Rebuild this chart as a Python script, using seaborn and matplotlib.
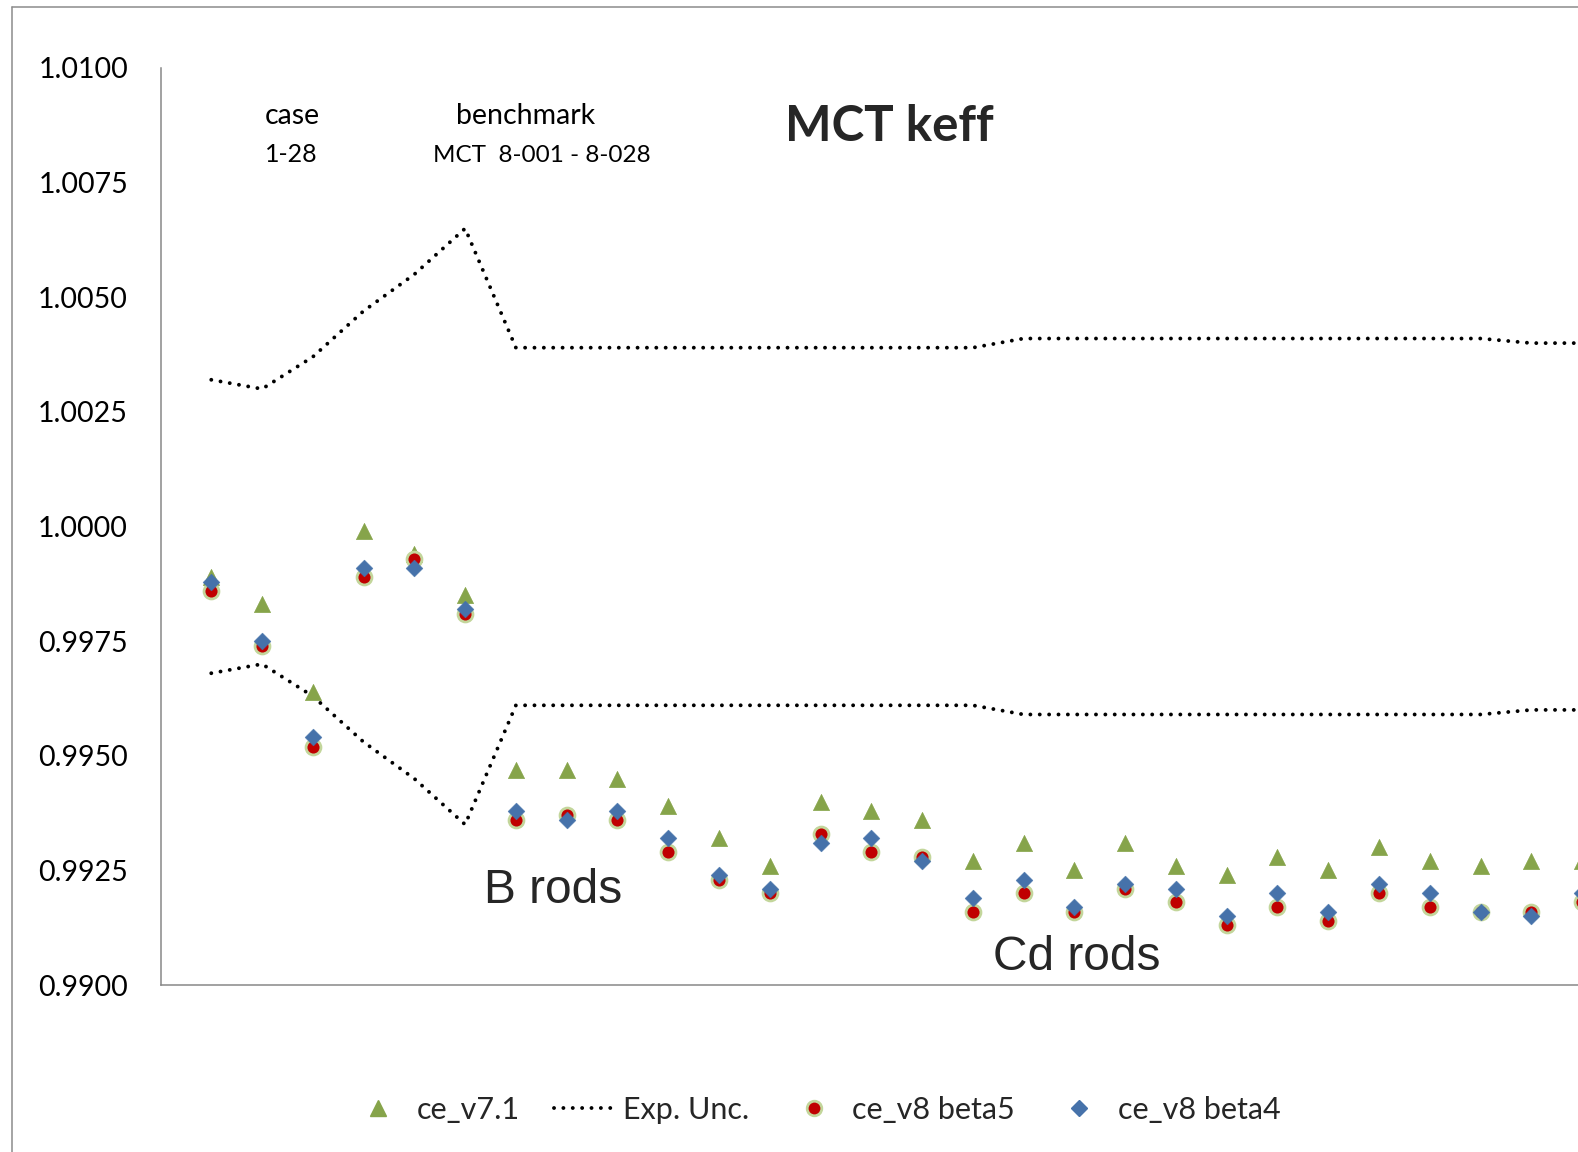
import matplotlib
matplotlib.use("Agg")
import matplotlib.pyplot as plt
from matplotlib.lines import Line2D
import pandas as pd
import seaborn as sns

# ---- data -------------------------------------------------------------
cases = list(range(1, 29))

ce_v71 = [0.9989, 0.9983, 0.9964, 0.9999, 0.9994, 0.9985,
          0.9947, 0.9947, 0.9945, 0.9939, 0.9932, 0.9926, 0.9940, 0.9938,
          0.9936, 0.9927, 0.9931, 0.9925, 0.9931, 0.9926, 0.9924, 0.9928,
          0.9925, 0.9930, 0.9927, 0.9926, 0.9927, 0.9927]

ce_v8_beta5 = [0.9986, 0.9974, 0.9952, 0.9989, 0.9993, 0.9981,
               0.9936, 0.9937, 0.9936, 0.9929, 0.9923, 0.9920, 0.9933, 0.9929,
               0.9928, 0.9916, 0.9920, 0.9916, 0.9921, 0.9918, 0.9913, 0.9917,
               0.9914, 0.9920, 0.9917, 0.9916, 0.9916, 0.9918]

ce_v8_beta4 = [0.9988, 0.9975, 0.9954, 0.9991, 0.9991, 0.9982,
               0.9938, 0.9936, 0.9938, 0.9932, 0.9924, 0.9921, 0.9931, 0.9932,
               0.9927, 0.9919, 0.9923, 0.9917, 0.9922, 0.9921, 0.9915, 0.9920,
               0.9916, 0.9922, 0.9920, 0.9916, 0.9915, 0.9920]

# experimental (benchmark) uncertainty, drawn as 1 +/- unc
exp_unc = [0.0032, 0.0030, 0.0037, 0.0047, 0.0055, 0.0065,
           0.0039, 0.0039, 0.0039, 0.0039, 0.0039, 0.0039, 0.0039, 0.0039,
           0.0039, 0.0039, 0.0041, 0.0041, 0.0041, 0.0041, 0.0041, 0.0041,
           0.0041, 0.0041, 0.0041, 0.0041, 0.0040, 0.0040]

y_ticks = [0.9900, 0.9925, 0.9950, 0.9975, 1.0000, 1.0025, 1.0050, 1.0075, 1.0100]

series_labels = ["ce_v7.1", "Exp. Unc.", "ce_v8 beta5", "ce_v8 beta4"]

df = pd.DataFrame({
    "case": cases,
    "ce_v7.1": ce_v71,
    "ce_v8 beta5": ce_v8_beta5,
    "ce_v8 beta4": ce_v8_beta4,
    "upper": [1.0 + u for u in exp_unc],
    "lower": [1.0 - u for u in exp_unc],
})

# ---- style ------------------------------------------------------------
sns.set_style("white")
plt.rcParams["font.family"] = ["Lato", "DejaVu Sans"]

GREEN = "#86A44A"
RED = "#C00000"
RED_EDGE = "#C3D69B"
BLUE = "#4672AA"
AXIS_GREY = "#878787"

W, H = 1578, 1152
fig = plt.figure(figsize=(W / 100, H / 100), dpi=100)


def fx(px):
    return px / W


def fy(py):
    return 1 - py / H


ax_left, ax_right, ax_top, ax_bottom = 160.5, 1578, 68, 985
ax = fig.add_axes([fx(ax_left), fy(ax_bottom),
                   fx(ax_right - ax_left), (ax_bottom - ax_top) / H])

step_px = 50.77
ax.set_xlim(0, (ax_right - ax_left) / step_px)
ax.set_ylim(0.99, 1.01)

dot_style = dict(color="black", linewidth=2.8, linestyle=(0, (0.01, 2.4)),
                 dash_capstyle="round")

# series drawn in legend order so later markers sit on top
sns.scatterplot(data=df, x="case", y="ce_v7.1", marker="^", s=135,
                color=GREEN, edgecolor=GREEN, linewidth=0.5, ax=ax,
                zorder=3, legend=False)
sns.lineplot(data=df, x="case", y="upper", estimator=None, sort=False,
             ax=ax, zorder=2, legend=False, **dot_style)
sns.lineplot(data=df, x="case", y="lower", estimator=None, sort=False,
             ax=ax, zorder=2, legend=False, **dot_style)
sns.scatterplot(data=df, x="case", y="ce_v8 beta5", marker="o", s=115,
                color=RED, edgecolor=RED_EDGE, linewidth=2.0, ax=ax,
                zorder=4, legend=False)
sns.scatterplot(data=df, x="case", y="ce_v8 beta4", marker="D", s=74,
                color=BLUE, edgecolor=BLUE, linewidth=0.3, ax=ax,
                zorder=5, legend=False)

# ---- axes -------------------------------------------------------------
ax.set_xlabel("")
ax.set_ylabel("")
ax.set_xticks([])
ax.set_yticks(y_ticks)
ax.set_yticklabels([f"{t:.4f}" for t in y_ticks])
ax.tick_params(axis="y", direction="out", length=7.9, width=1.1,
               color=AXIS_GREY, pad=15.5, labelsize=20.5, labelcolor="black")
for side in ("top", "right"):
    ax.spines[side].set_visible(False)
for side in ("left", "bottom"):
    ax.spines[side].set_color(AXIS_GREY)
    ax.spines[side].set_linewidth(1.1)
ax.grid(False)

# ---- annotations ------------------------------------------------------
txt = dict(color="black", va="baseline", ha="left")
fig.text(fx(265), fy(124), "case", fontsize=20.5, **txt)
fig.text(fx(265), fy(162), "1-28", fontsize=18, **txt)
fig.text(fx(456), fy(124), "benchmark", fontsize=20.5, **txt)
fig.text(fx(433), fy(162), "MCT  8-001 - 8-028", fontsize=17.5, **txt)
fig.text(fx(785), fy(141), "MCT keff", fontsize=35.5, fontweight="bold",
         va="baseline", ha="left")
fig.text(fx(484), fy(903), "B rods", family="Liberation Sans", fontsize=34.5,
         va="baseline", ha="left")
fig.text(fx(993), fy(970), "Cd rods", family="Liberation Sans", fontsize=34.5,
         va="baseline", ha="left")

# ---- legend -----------------------------------------------------------
handles = [
    Line2D([], [], ls="none", marker="^", ms=11.5, color=GREEN),
    Line2D([], [], **dot_style),
    Line2D([], [], ls="none", marker="o", ms=10.5, color=RED,
           markeredgecolor=RED_EDGE, markeredgewidth=2.0),
    Line2D([], [], ls="none", marker="D", ms=8.5, color=BLUE),
]
fig.legend(handles, series_labels, loc="center",
           bbox_to_anchor=(fx(814), fy(1110)), ncol=4, frameon=False,
           fontsize=22, handlelength=2.0, handletextpad=0.25,
           columnspacing=1.12, borderpad=0, borderaxespad=0)

# ---- chart-area frame -------------------------------------------------
fig.add_artist(Line2D([fx(12), fx(12)], [fy(7), 0], transform=fig.transFigure,
                      color="#8C8C8C", linewidth=1.1))
fig.add_artist(Line2D([fx(12), 1], [fy(7), fy(7)], transform=fig.transFigure,
                      color="#8C8C8C", linewidth=1.1))

fig.savefig("out.png", dpi=100, facecolor="white")
